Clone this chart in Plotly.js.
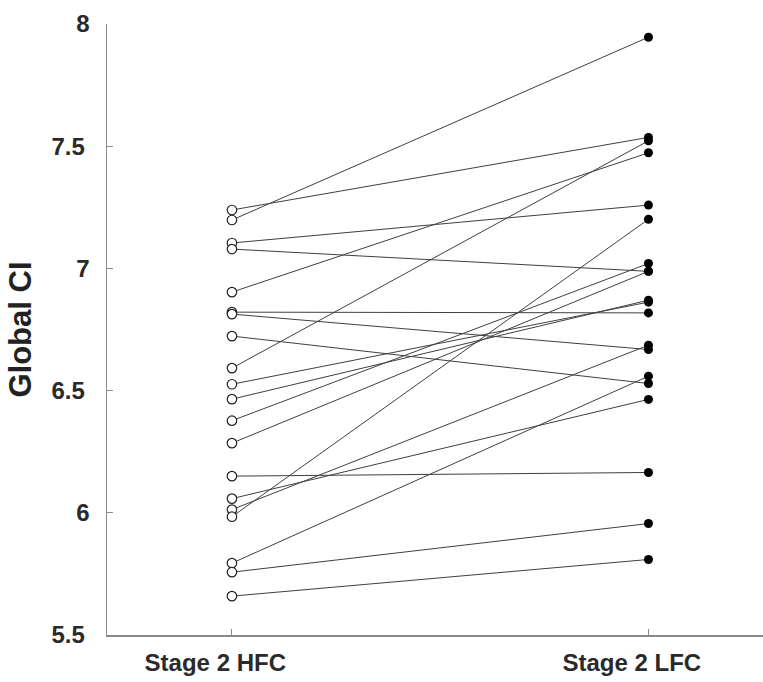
<!DOCTYPE html>
<html>
<head>
<meta charset="utf-8">
<script src="https://cdn.plot.ly/plotly-3.0.1.min.js"></script>
<style>html,body{margin:0;padding:0;background:#fff;}#chart{width:763px;height:682px;}</style>
</head>
<body>
<div id="chart"></div>
<script>
var categories = ["Stage 2 HFC", "Stage 2 LFC"];
var categoryText = ["Stage 2 HFC\u00a0\u00a0\u00a0\u00a0\u00a0", "Stage 2 LFC\u00a0\u00a0\u00a0\u00a0\u00a0"];
var hfc = [7.239, 7.198, 7.104, 7.079, 6.903, 6.821, 6.813, 6.723, 6.592, 6.526,
           6.465, 6.377, 6.285, 6.150, 6.058, 6.013, 5.984, 5.794, 5.757, 5.659];
var lfc = [7.536, 7.946, 7.259, 6.988, 7.473, 6.818, 6.668, 6.529, 7.522, 6.862,
           6.870, 7.020, 6.988, 6.165, 6.464, 6.686, 7.201, 6.559, 5.956, 5.809];
var yTicks = [5.5, 6, 6.5, 7, 7.5, 8];
var yTickText = ["5.5\u2009", "6", "6.5\u2009", "7", "7.5\u2009", "8"];

var lx = [], ly = [];
for (var i = 0; i < hfc.length; i++) {
  lx.push(categories[0], categories[1], null);
  ly.push(hfc[i], lfc[i], null);
}
var traces = [
  {x: lx, y: ly, mode: "lines", type: "scatter", line: {color: "#404040", width: 1}, hoverinfo: "skip", connectgaps: false},
  {x: hfc.map(function(){return categories[0];}), y: hfc, mode: "markers", type: "scatter",
   marker: {symbol: "circle", size: 9.5, color: "#ffffff", line: {color: "#222", width: 1.2}}},
  {x: lfc.map(function(){return categories[1];}), y: lfc, mode: "markers", type: "scatter",
   marker: {symbol: "circle", size: 9, color: "#000000", line: {color: "#000", width: 0}}}
];
var layout = {
  width: 763, height: 682,
  margin: {l: 107, r: 0, t: 24, b: 47},
  paper_bgcolor: "#fff", plot_bgcolor: "#fff",
  showlegend: false,
  font: {family: "Liberation Sans, Arial, sans-serif", color: "#222"},
  xaxis: {
    type: "category", range: [-0.3, 1.275],
    tickvals: categories, ticktext: categoryText,
    showgrid: false, zeroline: false,
    showline: true, linecolor: "#8a8a8a", linewidth: 1.5,
    ticks: "inside", ticklen: 6, tickcolor: "#8a8a8a", tickwidth: 1,
    tickfont: {size: 24, family: "Liberation Sans, Arial, sans-serif", color: "#2a2a2a", weight: "bold"},
    ticklabelstandoff: 6
  },
  yaxis: {
    range: [5.5, 8], tickvals: yTicks, ticktext: yTickText,
    showgrid: false, zeroline: false,
    showline: true, linecolor: "#8a8a8a", linewidth: 1.5,
    ticks: "inside", ticklen: 6, tickcolor: "#8a8a8a", tickwidth: 1,
    tickfont: {size: 24, family: "Liberation Sans, Arial, sans-serif", color: "#2a2a2a", weight: "bold"},
    ticklabelstandoff: 11,
    title: {text: "Global CI", font: {size: 31, family: "Liberation Sans, Arial, sans-serif", color: "#222", weight: "bold"}, standoff: 10}
  }
};
Plotly.newPlot("chart", traces, layout, {displayModeBar: false, staticPlot: true});
</script>
</body>
</html>
